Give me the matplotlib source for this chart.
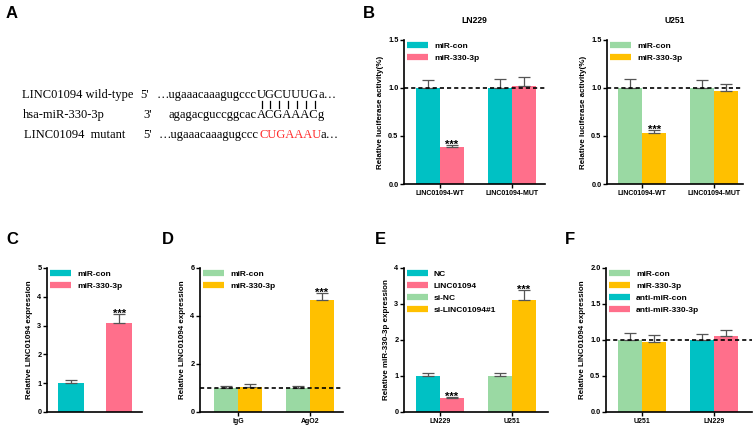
import numpy as np
import matplotlib.pyplot as plt
from matplotlib.lines import Line2D
from matplotlib.ticker import FormatStrFormatter

plt.rcParams['font.family'] = ['Liberation Sans', 'DejaVu Sans']
plt.rcParams['font.weight'] = 'bold'

TEAL = '#00C1C4'
PINK = '#FF6F8B'
GREEN = '#9AD9A3'
YELLOW = '#FFC000'

# ---- data ----
b_groups = ['LINC01094-WT', 'LINC01094-MUT']
b_series = ['miR-con', 'miR-330-3p']
ln229_con = [1.00, 1.00]
ln229_con_err = [0.08, 0.09]
ln229_mir = [0.39, 1.02]
ln229_mir_err = [0.02, 0.09]
u251_con = [1.00, 1.00]
u251_con_err = [0.09, 0.08]
u251_mir = [0.53, 0.97]
u251_mir_err = [0.03, 0.07]

c_series = ['miR-con', 'miR-330-3p']
c_vals = [1.00, 3.10]
c_err = [0.12, 0.30]

d_groups = ['IgG', 'AgO2']
d_con = [1.00, 1.00]
d_con_err = [0.10, 0.07]
d_mir = [1.05, 4.65]
d_mir_err = [0.12, 0.30]

e_groups = ['LN229', 'U251']
e_series = ['NC', 'LINC01094', 'si-NC', 'si-LINC01094#1']
e_vals = [1.00, 0.40, 1.00, 3.10]
e_err = [0.08, 0.03, 0.09, 0.30]

f_groups = ['U251', 'LN229']
f_series = ['miR-con', 'miR-330-3p', 'anti-miR-con', 'anti-miR-330-3p']
f_vals = [1.00, 0.97, 1.00, 1.06]
f_err = [0.10, 0.10, 0.09, 0.08]

W, H = 753, 430
fig = plt.figure(figsize=(W / 100, H / 100), dpi=100)


def rect(x0, y0, x1, y1):
    return [x0 / W, 1 - y1 / H, (x1 - x0) / W, (y1 - y0) / H]


def setup(ax, ylim, yticks, fmt, ylabel, xlim):
    ax.set_xlim(xlim)
    ax.set_ylim(ylim)
    ax.set_yticks(yticks)
    ax.yaxis.set_major_formatter(FormatStrFormatter(fmt))
    for s in ['top', 'right']:
        ax.spines[s].set_visible(False)
    for s in ['left', 'bottom']:
        ax.spines[s].set_linewidth(1.2)
    ax.tick_params(width=1, length=3, labelsize=5.3, pad=1)
    ax.set_ylabel(ylabel, fontsize=5.8, fontweight='bold', labelpad=3)


def bars(ax, xs, vals, errs, colors, width, stars):
    ax.bar(xs, vals, width=width, color=colors, linewidth=0, zorder=2)
    ax.errorbar(xs, vals, yerr=[[0] * len(vals), errs], fmt='none', ecolor='#555555',
                elinewidth=0.9, capsize=4.3, capthick=0.9, zorder=3)
    for x, v, e, st in zip(xs, vals, errs, stars):
        if st:
            ax.annotate('***', (x, v + e), xytext=(0, -3.5), textcoords='offset points',
                        ha='center', va='bottom', fontsize=8, fontweight='bold')


def legend(ax, labels, colors):
    handles = [Line2D([], [], color=c, lw=4.5, solid_capstyle='butt') for c in colors]
    ax.legend(handles, labels, loc='upper left', bbox_to_anchor=(0, 1.0), frameon=False,
              fontsize=6, handlelength=2.6, handletextpad=0.7, labelspacing=0.5,
              borderaxespad=0, borderpad=0.3)


def dashed(ax):
    ax.axhline(1, color='black', lw=1.2, ls=(0, (2.5, 1.8)), zorder=5)


w = 0.333
gx = np.arange(2)

# ---- B: LN229 ----
ax = fig.add_axes(rect(404, 40, 545, 184))
bars(ax, np.r_[gx - w / 2, gx + w / 2], ln229_con + ln229_mir, ln229_con_err + ln229_mir_err,
     [TEAL, TEAL, PINK, PINK], w, [False, False, True, False])
dashed(ax)
setup(ax, (0, 1.5), [0, 0.5, 1.0, 1.5], '%.1f', 'Relative luciferase activity(%)', (-0.5, 1.46))
ax.set_xticks(gx, b_groups, fontsize=5)
ax.set_title('LN229', fontsize=6.2, fontweight='bold', pad=12)
legend(ax, b_series, [TEAL, PINK])

# ---- B: U251 ----
ax = fig.add_axes(rect(607, 40, 743, 184))
bars(ax, np.r_[gx - w / 2, gx + w / 2], u251_con + u251_mir, u251_con_err + u251_mir_err,
     [GREEN, GREEN, YELLOW, YELLOW], w, [False, False, True, False])
dashed(ax)
setup(ax, (0, 1.5), [0, 0.5, 1.0, 1.5], '%.1f', 'Relative luciferase activity(%)', (-0.49, 1.4))
ax.set_xticks(gx, b_groups, fontsize=5)
ax.set_title('U251', fontsize=6.2, fontweight='bold', pad=12)
legend(ax, b_series, [GREEN, YELLOW])

# ---- C ----
ax = fig.add_axes(rect(47, 268, 142, 412))
bars(ax, gx, c_vals, c_err, [TEAL, PINK], 0.53, [False, True])
setup(ax, (0, 5), [0, 1, 2, 3, 4, 5], '%d', 'Relative LINC01094 expression', (-0.49, 1.47))
ax.set_xticks([])
legend(ax, c_series, [TEAL, PINK])

# ---- D ----
ax = fig.add_axes(rect(200, 268, 343, 412))
bars(ax, np.r_[gx - w / 2, gx + w / 2], d_con + d_mir, d_con_err + d_mir_err,
     [GREEN, GREEN, YELLOW, YELLOW], w, [False, False, False, True])
dashed(ax)
setup(ax, (0, 6), [0, 2, 4, 6], '%d', 'Relative LINC01094 expression', (-0.53, 1.46))
ax.set_xticks(gx, d_groups, fontsize=5)
legend(ax, c_series, [GREEN, YELLOW])

# ---- E ----
ax = fig.add_axes(rect(404, 268, 548, 412))
e_x = [0 - w / 2, 0 + w / 2, 1 - w / 2, 1 + w / 2]
bars(ax, e_x, e_vals, e_err, [TEAL, PINK, GREEN, YELLOW], w, [False, True, False, True])
setup(ax, (0, 4), [0, 1, 2, 3, 4], '%d', 'Relative miR-330-3p expression', (-0.5, 1.5))
ax.set_xticks(gx, e_groups, fontsize=5)
legend(ax, e_series, [TEAL, PINK, GREEN, YELLOW])

# ---- F ----
ax = fig.add_axes(rect(606, 268, 752, 412))
bars(ax, e_x, f_vals, f_err, [GREEN, YELLOW, TEAL, PINK], w, [False] * 4)
dashed(ax)
setup(ax, (0, 2.0), [0, 0.5, 1.0, 1.5, 2.0], '%.1f', 'Relative LINC01094 expression', (-0.5, 1.53))
ax.set_xticks(gx, f_groups, fontsize=5)
legend(ax, f_series, [GREEN, YELLOW, TEAL, PINK])

# ---- panel letters ----
for lab, x, y in [('A', 6, 14), ('B', 363, 13), ('C', 6, 239), ('D', 162, 239),
                  ('E', 375, 239), ('F', 565, 239)]:
    fig.text(x / W, 1 - y / H, lab, fontsize=12, fontweight='bold', va='center', ha='left')

# ---- A: sequence alignment ----
serif = ['Liberation Serif', 'DejaVu Serif']
r = fig.canvas.get_renderer()


def stext(x, y, s, color='black', ha='left'):
    return fig.text(x / W, 1 - y / H, s, family=serif, fontsize=9, fontweight='normal',
                    va='baseline', ha=ha, color=color)


def after(t):
    return t.get_window_extent(r).x1 - 1


rows = [
    (98, 'LINC01094 wild-type', 22, "5'", 140, '\u2026ugaaacaaagugccc', 'UGCUUUG', 'a\u2026', 'black', 257),
    (118, 'hsa-miR-330-3p', 23, "3'", 143, 'agagacguccggcac', 'ACGAAAC', 'g', 'black', 257),
    (138, 'LINC01094  mutant', 24, "5'", 143, '\u2026ugaaacaaagugccc', 'CUGAAAU', 'a\u2026', '#FF2A2A', 259),
]
upper_first = None
for y, name, nx, end, ex, pre, core, suf, col, sx in rows:
    stext(nx, y, name)
    stext(ex, y, end)
    stext(sx, y, pre, ha='right')
    t = stext(sx, y, core, color=col)
    if upper_first is None:
        upper_first = t
    stext(after(t), y, suf)

# pairing bars under the wild-type seed
prop = upper_first.get_fontproperties()
core = 'UGCUUUG'
for i in range(len(core)):
    w0 = r.get_text_width_height_descent(core[:i], prop, ismath=False)[0] if i else 0
    w1 = r.get_text_width_height_descent(core[:i + 1], prop, ismath=False)[0]
    cx = 257 + (w0 + w1) / 2
    fig.add_artist(Line2D([cx / W, cx / W], [1 - 100.5 / H, 1 - 108 / H], color='black',
                          lw=0.9, transform=fig.transFigure))

fig.savefig('out.png', dpi=100)
